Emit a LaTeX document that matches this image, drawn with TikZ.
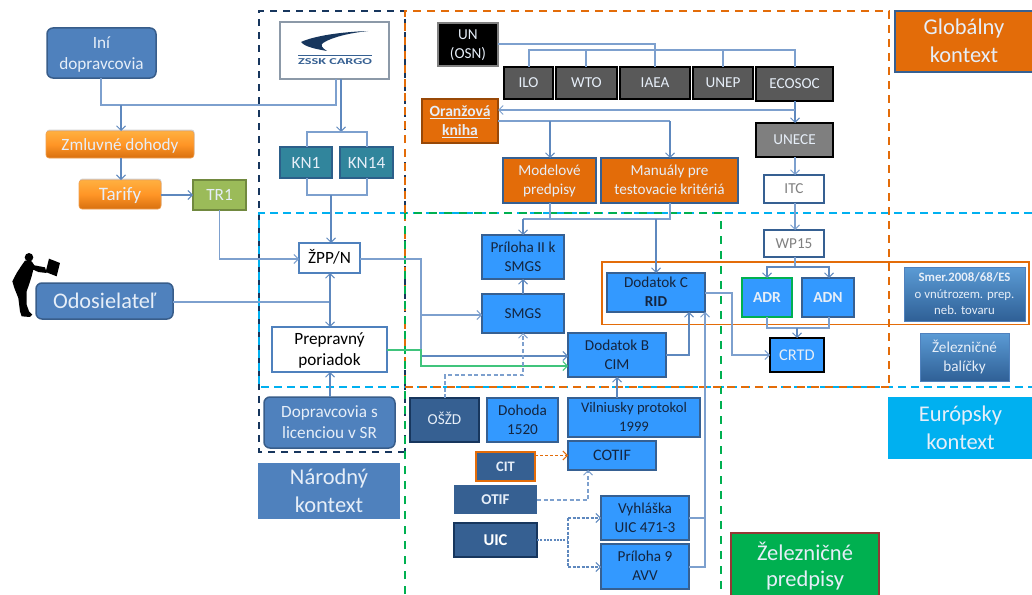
\documentclass[tikz,border=0pt]{standalone}
\usepackage{fontspec}
\setmainfont{Carlito}
\usetikzlibrary{arrows.meta,shadows}
\definecolor{cn}{HTML}{7DA0CE}
\definecolor{cnd}{HTML}{5E88BE}
\definecolor{bl}{HTML}{4F81BD}
\definecolor{bld}{HTML}{385D8A}
\definecolor{or}{HTML}{E36C09}
\definecolor{sky}{HTML}{3399FF}
\definecolor{nv}{HTML}{17365D}
\definecolor{mid}{HTML}{366092}
\definecolor{cy}{HTML}{00B0F0}
\definecolor{gr}{HTML}{00B050}
\definecolor{dtx}{HTML}{14253F}
\definecolor{ltx}{HTML}{E6EEF8}
\definecolor{orT}{HTML}{FFB040}
\definecolor{orB}{HTML}{D8700F}
\definecolor{orM}{HTML}{FF9526}
\definecolor{orE}{HTML}{F0A050}
\definecolor{teal}{HTML}{31859C}
\definecolor{tealE}{HTML}{2C5F8A}
\definecolor{dgray}{HTML}{595959}
\definecolor{gradT}{HTML}{5B9BD5}
\definecolor{gradB}{HTML}{2F6096}
\definecolor{olive}{HTML}{9BBB59}
\definecolor{oliveE}{HTML}{71893F}
\definecolor{mgray}{HTML}{7F7F7F}
\definecolor{logoE}{HTML}{8C99A8}
\definecolor{redE}{HTML}{953735}
\definecolor{orD}{HTML}{984807}
\newcommand\fsA{\fontsize{15.2}{19}\selectfont}
\newcommand\fsB{\fontsize{17.2}{21}\selectfont}
\newcommand\fsC{\fontsize{22.5}{28}\selectfont}
\tikzset{
 base/.style={inner sep=0pt,outer sep=0pt,align=center,font=\fsA},
 softbl/.style={base,rounded corners=6pt,fill=bl,draw=bld,line width=1.5pt,text=ltx,font=\fsB},
 orgrad/.style={base,rounded corners=3pt,top color=orT,bottom color=orB,middle color=orM,draw=orE,line width=.6pt,text=ltx,font=\fsB,drop shadow={shadow xshift=.5pt,shadow yshift=1.5pt,opacity=.35}},
 kn/.style={base,fill=teal,draw=tealE,line width=1.5pt,text=ltx,font=\fsB},
 whiteb/.style={base,fill=white,draw=bl,line width=1.6pt,text=black,font=\fsB},
 whitedk/.style={base,fill=white,draw=mid,line width=1.4pt,text=gray},
 dkgray/.style={base,fill=dgray,draw=black,line width=1.5pt,text=ltx},
 orbox/.style={base,fill=or,draw=mid,line width=1.3pt,text=ltx},
 skyb/.style={base,fill=sky,draw=mid,line width=1.4pt,text=dtx},
 midb/.style={base,fill=mid,draw=nv,line width=1.4pt,text=ltx},
 gradb/.style={base,top color=gradT,bottom color=gradB,draw=bl,line width=.5pt,text=ltx,drop shadow={shadow xshift=.5pt,shadow yshift=-1pt,opacity=.3}},
 conn/.style={cn,line width=1.1pt},
 arr/.style={conn,-{Straight Barb[length=4.5pt,width=9pt,line width=1pt]}},
 arrd/.style={cnd,line width=1.1pt,-{Straight Barb[length=4.5pt,width=9pt,line width=1pt]}},
 dsh/.style={line width=1.1pt,dash pattern=on 4pt off 2.5pt},
 frame/.style={line width=2pt},
}
\newcommand\bx[7]{\node[#6,minimum width={#4-#2},minimum height={#5-#3}] (#1) at ({(#2+#4)/2},{(#3+#5)/2}) {\rule{0pt}{.95em}#7\rule[-.31em]{0pt}{.31em}};}
\begin{document}
\begin{tikzpicture}[x=1pt,y=-1pt]
\useasboundingbox (0,0) rectangle (1032,594);
\fill[white] (0,0) rectangle (1032,594);
% context frames
\draw[frame,color=nv,dash pattern=on 7pt off 6pt] (405,452) -- (259,452) -- (259,11) -- (405,11) -- (405,452);
\draw[frame,color=cy,dash pattern=on 8pt off 5pt] (1032,213) -- (259,213) -- (259,387) -- (1032,387);
\draw[frame,color=gr,dash pattern=on 8pt off 7pt] (405,594) -- (405,213) -- (721,213) -- (721,594);
\draw[frame,color=or,dash pattern=on 8pt off 6pt] (405,213) -- (405,11) -- (889,11) -- (889,387);
\draw[frame,color=or,dash pattern=on 8pt off 6pt] (889,387) -- (405,387);
\draw[frame,color=or,dash pattern=on 8pt off 10pt] (405,213) -- (405,387);
\draw[frame,color=gr,dash pattern=on 8pt off 7pt] (405,594) -- (405,213);
\draw[or,line width=1.6pt] (602,262) rectangle (1029,324.5);
% person
\begin{scope}[shift={(5,248)},x=.3333pt,y=-.3333pt]
\fill[black] (72,28) circle[radius=4.3pt];
\fill[black] (60,38) -- (80,40) -- (88,52) -- (120,58) -- (125,75) -- (100,72) -- (85,65) -- (80,85) -- (72,110) -- (65,130) -- (65,170) -- (72,190) -- (82,200) -- (75,207) -- (50,205) -- (45,190) -- (40,150) -- (28,120) -- (22,100) -- (35,75) -- (48,55) -- cycle;
\fill[black] (132,32) -- (165,45) -- (155,85) -- (122,72) -- cycle;
\end{scope}
% left column
\bx{ini}{47}{28}{156}{78}{softbl}{Iní\\dopravcovia}
\bx{zml}{46}{131}{194}{158}{orgrad}{Zmluvné dohody}
\bx{tar}{79}{180}{161}{209}{orgrad,font=\fontsize{19}{21}\selectfont}{Tarify}
\bx{tr}{193}{180}{246}{210}{base,fill=olive,draw=oliveE,line width=1.5pt,text=ltx,font=\fsB}{TR1}
\bx{ods}{36}{283}{173}{319}{softbl,font=\fontsize{22.3}{24}\selectfont}{Odosielateľ}
% national
\bx{zssk}{280}{22}{389}{79}{base,fill=white,draw=logoE,line width=1.5pt}{}
\fill[nv] (368,31) .. controls (340,32) and (314,36) .. (301,42) .. controls (305,47) and (316,49) .. (327,51) .. controls (322,48) and (320,45) .. (323,43) .. controls (332,37) and (350,33) .. (368,31) -- cycle;
\fill[mid] (298,55) rectangle (372,56.2);
\node[base,font=\fontsize{9}{9}\bfseries\selectfont,text=mid,xscale=1.58] (zsskt) at (335,62) {ZSSK CARGO};
\bx{kna}{280}{147}{332}{178}{kn}{KN1}
\bx{knb}{340}{147}{393}{178}{kn}{KN14}
\bx{zpp}{299}{243}{360}{273}{whiteb}{ŽPP/N}
\bx{prp}{272}{327}{387}{372}{whiteb}{Prepravný\\poriadok}
\bx{dop}{264}{397}{395}{448}{softbl}{Dopravcovia s\\licenciou v SR}
\bx{nar}{258}{463}{400}{519}{base,fill=bl,text=ltx,font=\fsC}{Národný\\kontext}
% global
\bx{un}{438}{23}{498}{66}{base,fill=black,draw=gray,line width=1.5pt,text=ltx}{UN\\(OSN)}
\bx{ilo}{504}{67}{553}{99}{dkgray}{ILO}
\bx{wto}{556}{67}{617}{99}{dkgray}{WTO}
\bx{iaea}{620}{67}{690}{99}{dkgray}{IAEA}
\bx{unep}{693}{67}{753}{99}{dkgray}{UNEP}
\bx{eco}{756}{67}{833}{101}{dkgray}{ECOSOC}
\bx{ora}{422}{99}{498}{143}{base,fill=or,draw=orD,line width=1.5pt,text=ltx,font=\fontsize{15.6}{19}\bfseries\selectfont}{\underline{Oranžová}\\\underline{kniha}}
\bx{mod}{503}{158}{596}{203}{orbox}{Modelové\\predpisy}
\bx{man}{601}{158}{738}{203}{orbox}{Manuály pre\\testovacie kritériá}
\bx{unece}{756}{123}{833}{157}{base,fill=mgray,draw=black,line width=1.5pt,text=ltx}{UNECE}
\bx{itc}{764}{175}{824}{203}{whitedk}{ITC}
\bx{wp}{764}{230}{824}{257}{whitedk}{WP15}
\bx{glo}{895}{11}{1033}{72}{base,fill=or,draw=mid,line width=1.4pt,text=ltx,font=\fsC}{Globálny\\kontext}
% rail
\bx{pri}{482}{235}{564}{279}{skyb}{Príloha II k\\SMGS}
\bx{smgs}{482}{294}{564}{333}{skyb}{SMGS}
\bx{dc}{607}{273}{705}{312}{skyb}{Dodatok C\\\textbf{RID}}
\bx{db}{568}{333}{666}{377}{skyb}{Dodatok B\\CIM}
\bx{adr}{742}{278}{792}{317}{base,fill=sky,draw=gr,line width=1.6pt,text=ltx,font=\fontsize{15.5}{19}\bfseries\selectfont}{ADR}
\bx{adn}{802}{278}{854}{317}{skyb,text=ltx,font=\fontsize{15.5}{19}\bfseries\selectfont}{ADN}
\bx{crtd}{770}{338}{824}{372}{base,fill=sky,draw=black,line width=1.6pt,text=ltx,font=\fontsize{16.4}{19}\selectfont}{CRTD}
\bx{smer}{904}{267}{1025}{321}{gradb,font=\fontsize{12.8}{16.5}\selectfont}{\textbf{Smer.2008/68/ES}\\o vnútrozem. prep.\\neb. tovaru}
\bx{bal}{920}{333}{1009}{381}{gradb}{Železničné\\balíčky}
\bx{eur}{888}{397}{1033}{459}{base,fill=cy,text=ltx,font=\fsC}{Európsky\\kontext}
\bx{osz}{410}{398}{479}{442}{midb}{OŠŽD}
\bx{doh}{487}{398}{558}{442}{skyb}{Dohoda\\1520}
\bx{vil}{568}{398}{700}{437}{skyb,font=\fontsize{14.6}{19}\selectfont}{Vilniusky protokol\\1999}
\bx{cot}{568}{441}{656}{470}{skyb,font=\fontsize{16}{19}\selectfont}{COTIF}
\bx{cit}{476}{452}{535}{481}{base,fill=mid,draw=or,line width=1.6pt,text=ltx,font=\fontsize{14.5}{19}\bfseries\selectfont}{CIT}
\bx{oti}{454}{485}{537}{514}{base,fill=mid,text=ltx,font=\fontsize{15}{19}\bfseries\selectfont}{OTIF}
\bx{uic}{454}{523}{537}{557}{base,fill=mid,draw=nv,line width=1.4pt,text=white,font=\fontsize{16.5}{19}\bfseries\selectfont}{UIC}
\bx{vyh}{601}{496}{689}{540}{skyb}{Vyhláška\\UIC 471-3}
\bx{p9}{601}{544}{689}{589}{skyb}{Príloha 9\\AVV}
\bx{zel}{731}{533}{879}{600}{base,fill=gr,draw=redE,line width=1.4pt,text=ltx,font=\fontsize{22.5}{26}\selectfont}{Železničné\\predpisy}
% junction coordinates
\coordinate (a1) at (101,105);
\coordinate (a2) at (336,105);
\coordinate (a3) at (121,105);
\coordinate (b1) at (341,132);
\coordinate (b2) at (307,132);
\coordinate (b3) at (367,132);
\coordinate (b4) at (307,195);
\coordinate (b5) at (367,195);
\coordinate (b6) at (331,195);
\coordinate (t1) at (220,259);
\coordinate (z1) at (421,259);
\coordinate (z2) at (421,315);
\coordinate (z3) at (421,356);
\coordinate (g1) at (421,350);
\coordinate (g2) at (421,366);
\coordinate (o1) at (330,302);
\coordinate (s1) at (445,375);
\coordinate (s2) at (523,375);
\coordinate (d1) at (689,355);
\coordinate (d2) at (732,293);
\coordinate (d3) at (732,355);
\coordinate (r1) at (705,518);
\coordinate (r2) at (705,567);
\coordinate (u1) at (655,44);
\coordinate (u2) at (529,50);
\coordinate (u3) at (586,50);
\coordinate (u4) at (723,50);
\coordinate (u5) at (795,50);
\coordinate (e1) at (795,110);
\coordinate (e2) at (498,110);
\coordinate (p1) at (670,121);
\coordinate (p2) at (550,121);
\coordinate (m1) at (550,219);
\coordinate (m2) at (670,219);
\coordinate (m3) at (523,219);
\coordinate (m4) at (656,219);
\coordinate (w1) at (795,267);
\coordinate (w2) at (767,267);
\coordinate (w3) at (829,267);
\coordinate (c1) at (767,328);
\coordinate (c2) at (829,328);
\coordinate (c3) at (797,328);
\coordinate (k1) at (588,500);
\coordinate (ux) at (568,540);
\coordinate (ua) at (568,518);
\coordinate (ub) at (568,567);
% connectors: left part
\draw[conn] (ini.south -| a1) -- (a1) -- (a2) -- (zssk.south -| a2);
\draw[arrd] (a3) -- (zml.north -| a3);
\draw[arrd] (zml.south -| a3) -- (tar.north -| a3);
\draw[arrd] (tar.east |- tr.west) -- (tr.west);
\draw[arrd] (zssk.south -| b1) -- (b1);
\draw[conn] (kna.north -| b2) -- (b2) -- (b3) -- (knb.north -| b3);
\draw[conn] (kna.south -| b4) -- (b4) -- (b5) -- (knb.south -| b5);
\draw[arrd] (b6) -- (zpp.north -| b6);
\draw[arr] (tr.south) |- (zpp.west |- t1);
\draw[conn] (zpp.east |- z1) -- (z1) -- (z3);
\draw[arr,line width=1.4pt] (z2) -- (smgs.west |- z2);
\draw[arrd] (z3) -- (db.west |- z3);
\draw[gr!75!white,line width=1.1pt,-{Straight Barb[length=4.5pt,width=9pt,line width=1pt]}] (prp.east |- g1) -- (g1) -- (g2) -- (db.west |- g2);
\draw[conn] (ods.east |- o1) -- (o1);
\draw[cnd,line width=1.1pt,{Straight Barb[length=4.5pt,width=9pt,line width=1pt]}-{Straight Barb[length=4.5pt,width=9pt,line width=1pt]}] (zpp.south -| o1) -- (prp.north -| o1);
\draw[arrd] (dop.north -| o1) -- (prp.south -| o1);
% connectors: global
\draw[conn] (un.east |- u1) -- (u1) -- (iaea.north -| u1);
\draw[conn] (ilo.north -| u2) -- (u2) -- (u5) -- (eco.north -| u5);
\draw[conn] (u3) -- (wto.north -| u3);
\draw[conn] (u4) -- (unep.north -| u4);
\draw[arrd] (eco.south -| e1) -- (unece.north -| e1);
\draw[arr] (e1) -- (e2);
\draw[conn] (ora.east |- p1) -- (p1);
\draw[arrd] (p1) -- (man.north -| p1);
\draw[arrd] (p2) -- (mod.north -| p2);
\draw[conn] (mod.south -| m1) -- (m1) -- (m2) -- (man.south -| m2);
\draw[conn] (m3) -- (m1);
\draw[arrd] (m3) -- (pri.north -| m3);
\draw[arrd,line width=1.4pt] (m4) -- (dc.north -| m4);
\draw[arr] (unece.south -| e1) -- (itc.north -| e1);
\draw[arr] (itc.south -| e1) -- (wp.north -| e1);
\draw[conn] (wp.south -| w1) -- (w1);
\draw[arrd] (w1) -- (w2) -- (adr.north -| w2);
\draw[arrd] (w1) -- (w3) -- (adn.north -| w3);
\draw[conn] (adr.south -| c1) -- (c1) -- (c2) -- (adn.south -| c2);
\draw[arrd,line width=1.4pt] (c3) -- (crtd.north -| c3);
% connectors: rail
\draw[arrd] (smgs.north) -- (pri.south);
\draw[arr,dsh] (osz.north -| s1) -- (s1) -- (s2) -- (smgs.south -| s2);
\draw[arrd] (vil.north -| db.south) -- (db.south);
\draw[arrd] (db.east |- d1) -- (d1) -- (dc.south -| d1);
\draw[arr] (dc.east |- d2) -- (d2) -- (d3) -- (crtd.west |- d3);
\draw[conn,line width=1.4pt] (vyh.east |- r1) -- (r1);
\draw[arr,line width=1.4pt] (p9.east |- r2) -- (r2) -- (dc.south east);
\draw[or,line width=1.1pt,dash pattern=on 3pt off 2pt,-{Straight Barb[length=4.5pt,width=9pt,line width=1pt]}] (cit.east |- cot.west) -- (cot.west);
\draw[arr,dsh] (oti.east |- k1) -- (k1) -- (cot.south -| k1);
\draw[cnd,line width=1.8pt,dash pattern=on 2pt off 1.3pt] (uic.east |- ux) -- (ux);
\draw[arrd,dash pattern=on 3pt off 1.5pt] (ua) -- (vyh.west |- ua);
\draw[arrd,dash pattern=on 3pt off 1.5pt] (ub) -- (p9.west |- ub);
\draw[cnd,line width=1.1pt,dash pattern=on 3pt off 1.5pt] (ua) -- (ub);
\end{tikzpicture}
\end{document}
